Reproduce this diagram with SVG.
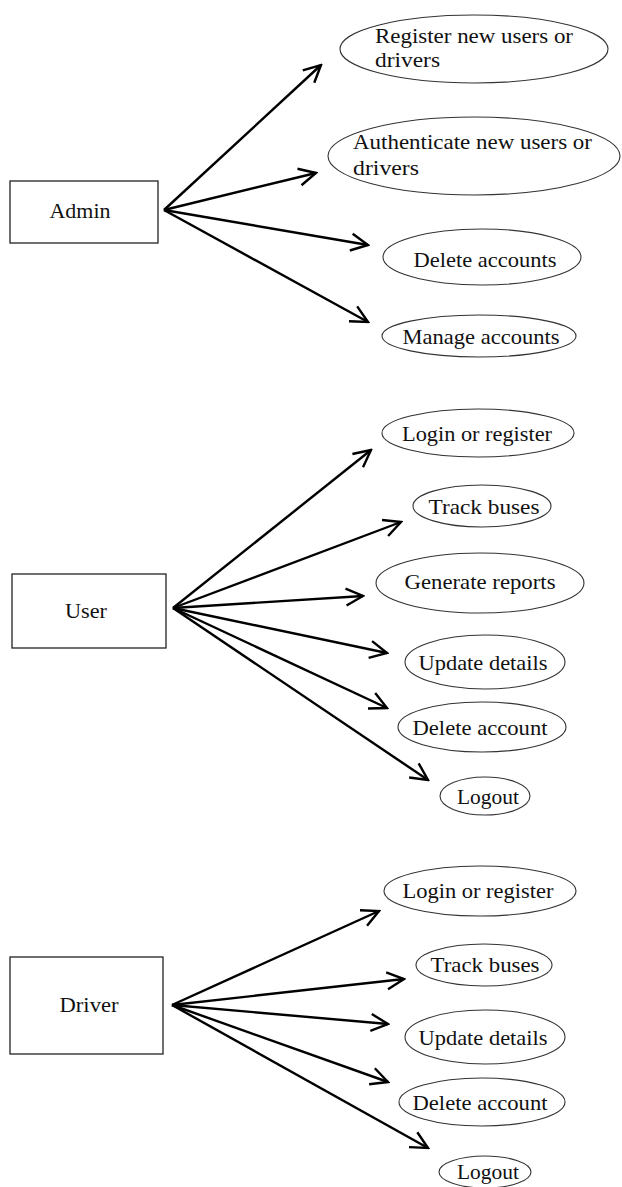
<svg xmlns="http://www.w3.org/2000/svg" width="622" height="1187" viewBox="0 0 622 1187">
  <style>
    .actor { fill: #fff; stroke: #222; stroke-width: 1.3; }
    .usecase { fill: #fff; stroke: #333; stroke-width: 1.1; }
    .label { font-family: "Liberation Serif", "Times New Roman", serif; font-size: 21px; fill: #111; }
    .mid { text-anchor: middle; }
    .link { stroke: #000; stroke-width: 2.4; fill: none; marker-end: url(#open-arrow); }
  </style>
  <defs>
    <marker id="open-arrow" markerUnits="userSpaceOnUse" viewBox="-20 -11 22 22" markerWidth="22" markerHeight="22" refX="0" refY="0" orient="auto">
      <path d="M-17,-8.5 L0,0 L-17,8.5" fill="none" stroke="#000" stroke-width="2.4" stroke-linejoin="miter"/>
    </marker>
  </defs>
  <rect width="622" height="1187" fill="#fff"/>

  <!-- Admin section -->
  <g id="admin">
    <rect class="actor" x="10" y="181" width="148" height="62"/>
    <text class="label mid" x="80" y="218" textLength="61" lengthAdjust="spacingAndGlyphs">Admin</text>
  </g>
  <g id="register-users">
    <ellipse class="usecase" cx="474" cy="49" rx="134" ry="34"/>
    <text class="label" x="375" y="43" textLength="198" lengthAdjust="spacingAndGlyphs">Register new users or</text>
    <text class="label" x="375" y="67" textLength="65" lengthAdjust="spacingAndGlyphs">drivers</text>
  </g>
  <g id="authenticate-users">
    <ellipse class="usecase" cx="474" cy="156" rx="146" ry="39"/>
    <text class="label" x="353" y="149" textLength="239" lengthAdjust="spacingAndGlyphs">Authenticate new users or</text>
    <text class="label" x="353" y="175" textLength="66" lengthAdjust="spacingAndGlyphs">drivers</text>
  </g>
  <g id="delete-accounts">
    <ellipse class="usecase" cx="482" cy="257" rx="99" ry="28"/>
    <text class="label mid" x="485" y="267" textLength="143" lengthAdjust="spacingAndGlyphs">Delete accounts</text>
  </g>
  <g id="manage-accounts">
    <ellipse class="usecase" cx="479" cy="336" rx="97" ry="21"/>
    <text class="label mid" x="481" y="344" textLength="157" lengthAdjust="spacingAndGlyphs">Manage accounts</text>
  </g>

  <!-- User section -->
  <g id="user">
    <rect class="actor" x="12" y="574" width="154" height="74"/>
    <text class="label mid" x="86" y="618" textLength="42" lengthAdjust="spacingAndGlyphs">User</text>
  </g>
  <g id="user-login">
    <ellipse class="usecase" cx="478" cy="433" rx="96" ry="24"/>
    <text class="label mid" x="477" y="441" textLength="150" lengthAdjust="spacingAndGlyphs">Login or register</text>
  </g>
  <g id="user-track">
    <ellipse class="usecase" cx="482" cy="506" rx="69" ry="21"/>
    <text class="label mid" x="484" y="514" textLength="111" lengthAdjust="spacingAndGlyphs">Track buses</text>
  </g>
  <g id="user-reports">
    <ellipse class="usecase" cx="480" cy="583" rx="104" ry="30"/>
    <text class="label mid" x="480" y="589" textLength="151" lengthAdjust="spacingAndGlyphs">Generate reports</text>
  </g>
  <g id="user-update">
    <ellipse class="usecase" cx="485" cy="662" rx="80" ry="27"/>
    <text class="label mid" x="483" y="670" textLength="129" lengthAdjust="spacingAndGlyphs">Update details</text>
  </g>
  <g id="user-delete">
    <ellipse class="usecase" cx="482" cy="727" rx="84" ry="25"/>
    <text class="label mid" x="480" y="735" textLength="135" lengthAdjust="spacingAndGlyphs">Delete account</text>
  </g>
  <g id="user-logout">
    <ellipse class="usecase" cx="485" cy="796" rx="45" ry="19"/>
    <text class="label mid" x="488" y="804" textLength="62" lengthAdjust="spacingAndGlyphs">Logout</text>
  </g>

  <!-- Driver section -->
  <g id="driver">
    <rect class="actor" x="10" y="957" width="153" height="97"/>
    <text class="label mid" x="89" y="1012" textLength="59" lengthAdjust="spacingAndGlyphs">Driver</text>
  </g>
  <g id="driver-login">
    <ellipse class="usecase" cx="480" cy="891" rx="96" ry="25"/>
    <text class="label mid" x="478" y="898" textLength="151" lengthAdjust="spacingAndGlyphs">Login or register</text>
  </g>
  <g id="driver-track">
    <ellipse class="usecase" cx="484" cy="965" rx="68" ry="21"/>
    <text class="label mid" x="485" y="972" textLength="109" lengthAdjust="spacingAndGlyphs">Track buses</text>
  </g>
  <g id="driver-update">
    <ellipse class="usecase" cx="485" cy="1037" rx="80" ry="27"/>
    <text class="label mid" x="483" y="1045" textLength="129" lengthAdjust="spacingAndGlyphs">Update details</text>
  </g>
  <g id="driver-delete">
    <ellipse class="usecase" cx="482" cy="1102" rx="83" ry="24"/>
    <text class="label mid" x="480" y="1110" textLength="135" lengthAdjust="spacingAndGlyphs">Delete account</text>
  </g>
  <g id="driver-logout">
    <ellipse class="usecase" cx="485" cy="1172" rx="46" ry="16"/>
    <text class="label mid" x="488" y="1179" textLength="62" lengthAdjust="spacingAndGlyphs">Logout</text>
  </g>

  <!-- Connectors: each actor fans out to its use cases -->
  <g id="connectors">
    <line class="link" x1="164" y1="210" x2="321" y2="65"/>
    <line class="link" x1="164" y1="210" x2="316" y2="173"/>
    <line class="link" x1="164" y1="210" x2="368" y2="245"/>
    <line class="link" x1="164" y1="210" x2="368" y2="322"/>

    <line class="link" x1="173" y1="608" x2="371" y2="450"/>
    <line class="link" x1="173" y1="608" x2="401" y2="522"/>
    <line class="link" x1="173" y1="608" x2="363" y2="596"/>
    <line class="link" x1="173" y1="608" x2="387" y2="653"/>
    <line class="link" x1="173" y1="608" x2="387" y2="708"/>
    <line class="link" x1="173" y1="608" x2="428" y2="780"/>

    <line class="link" x1="172" y1="1005" x2="379" y2="911"/>
    <line class="link" x1="172" y1="1005" x2="404" y2="979"/>
    <line class="link" x1="172" y1="1005" x2="388" y2="1024"/>
    <line class="link" x1="172" y1="1005" x2="388" y2="1082"/>
    <line class="link" x1="172" y1="1005" x2="428" y2="1148"/>
  </g>
</svg>
